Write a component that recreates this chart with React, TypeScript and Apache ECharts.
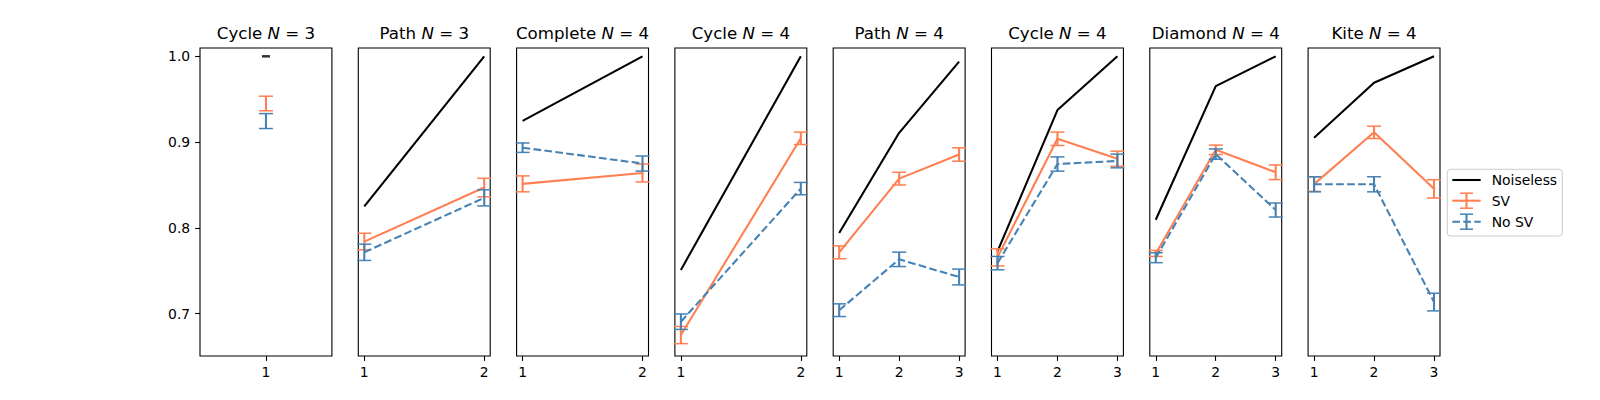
import React, { useEffect, useRef } from 'react';
import * as echarts from 'echarts';

// ---------------- data ----------------
const panelNames = ['Cycle', 'Path', 'Complete', 'Cycle', 'Path', 'Cycle', 'Diamond', 'Kite'];
const panelN = [3, 3, 4, 4, 4, 4, 4, 4];

const noiseless = [
  [1.0],
  [0.825, 1.0],
  [0.9248, 1.0],
  [0.751, 1.0],
  [0.794, 0.9108, 0.9938],
  [0.7725, 0.9373, 1.0],
  [0.8095, 0.9653, 1.0],
  [0.905, 0.9692, 1.0],
];

const svMean = [
  [0.945],
  [0.784, 0.847],
  [0.8513, 0.864],
  [0.675, 0.9044],
  [0.7715, 0.8574, 0.8855],
  [0.7656, 0.9038, 0.8806],
  [0.7702, 0.891, 0.8648],
  [0.851, 0.9114, 0.8455],
];
const svErr = [
  [0.0085],
  [0.0097, 0.0108],
  [0.0093, 0.0105],
  [0.01, 0.0072],
  [0.0075, 0.0074, 0.0078],
  [0.01, 0.0078, 0.0088],
  [0.0035, 0.0055, 0.0085],
  [0.0084, 0.0072, 0.0107],
];

const noSvMean = [
  [0.9245],
  [0.7715, 0.835],
  [0.8935, 0.875],
  [0.6906, 0.8458],
  [0.704, 0.7633, 0.7427],
  [0.7589, 0.8744, 0.878],
  [0.7652, 0.886, 0.8208],
  [0.8508, 0.8508, 0.7135],
];
const noSvErr = [
  [0.0087],
  [0.0095, 0.0094],
  [0.0055, 0.0088],
  [0.009, 0.0072],
  [0.0074, 0.0084, 0.0092],
  [0.0078, 0.0083, 0.008],
  [0.0058, 0.006, 0.0082],
  [0.0088, 0.0088, 0.0103],
];

const yTicks = [0.7, 0.8, 0.9, 1.0];
const legendLabels = ['Noiseless', 'SV', 'No SV'];

// ---------------- style / layout ----------------
const FONT = 'DejaVu Sans';
const BLACK = '#000000';
const CORAL = '#FF7F50';
const STEEL = '#4682B4';
const LEFT = 200;
const PANEL_W = 131.915;
const STEP = 158.298;
const TOP = 48;
const HEIGHT = 308;
const Y_MIN = 0.6506;
const Y_MAX = 1.0097;
const LW = 2.08;
const CAP = 7;

function xRange(n: number): [number, number] {
  if (n === 1) return [0.95, 1.05];
  const pad = 0.05 * (n - 1);
  return [1 - pad, n + pad];
}

function errorBarSeries(idx: number, means: number[], errs: number[], color: string) {
  return {
    type: 'custom',
    xAxisIndex: idx,
    yAxisIndex: idx,
    encode: { x: 0, y: [1, 2] },
    data: means.map((m, j) => [j + 1, m - errs[j], m + errs[j]]),
    renderItem: (_params: any, api: any) => {
      const x = api.value(0);
      const lo = api.coord([x, api.value(1)]);
      const hi = api.coord([x, api.value(2)]);
      return {
        type: 'group',
        children: [
          { type: 'line', shape: { x1: lo[0], y1: lo[1], x2: hi[0], y2: hi[1] }, style: { stroke: color, lineWidth: LW } },
          { type: 'line', shape: { x1: hi[0] - CAP, y1: hi[1], x2: hi[0] + CAP, y2: hi[1] }, style: { stroke: color, lineWidth: 1.5 } },
          { type: 'line', shape: { x1: lo[0] - CAP, y1: lo[1], x2: lo[0] + CAP, y2: lo[1] }, style: { stroke: color, lineWidth: 1.5 } },
        ],
      };
    },
    z: 3,
  };
}

function buildOption() {
  const grids: any[] = [];
  const xAxes: any[] = [];
  const yAxes: any[] = [];
  const titles: any[] = [];
  const series: any[] = [];

  panelNames.forEach((name, i) => {
    const n = noiseless[i].length;
    const [xmin, xmax] = xRange(n);
    const ticks = noiseless[i].map((_, j) => j + 1);
    grids.push({
      left: LEFT + i * STEP,
      top: TOP,
      width: PANEL_W,
      height: HEIGHT,
      show: true,
      borderColor: BLACK,
      borderWidth: 1.1,
      backgroundColor: 'transparent',
      containLabel: false,
    });
    xAxes.push({
      type: 'value',
      gridIndex: i,
      min: xmin,
      max: xmax,
      axisLine: { show: false },
      splitLine: { show: false },
      axisTick: { show: true, inside: false, length: 4.9, lineStyle: { color: BLACK, width: 1.1 }, customValues: ticks },
      axisLabel: {
        show: true,
        customValues: ticks,
        margin: 8.5,
        color: BLACK,
        fontFamily: FONT,
        fontSize: 13.9,
        lineHeight: 14,
        formatter: (v: number) => String(Math.round(v)),
      },
    });
    yAxes.push({
      type: 'value',
      gridIndex: i,
      min: Y_MIN,
      max: Y_MAX,
      show: i === 0,
      axisLine: { show: false },
      splitLine: { show: false },
      axisTick: { show: i === 0, inside: false, length: 4.9, lineStyle: { color: BLACK, width: 1.1 }, customValues: yTicks },
      axisLabel: {
        show: i === 0,
        customValues: yTicks,
        margin: 9.8,
        color: BLACK,
        fontFamily: FONT,
        fontSize: 13.9,
        formatter: (v: number) => v.toFixed(1),
      },
    });
    titles.push({
      text: `${name} {i|N} = ${panelN[i]}`,
      left: LEFT + i * STEP + PANEL_W / 2,
      top: 33.9,
      textAlign: 'center',
      textVerticalAlign: 'middle',
      padding: 0,
      textStyle: {
        fontFamily: FONT,
        fontSize: 16.67,
        fontWeight: 'normal',
        color: BLACK,
        lineHeight: 20,
        rich: {
          i: { fontFamily: FONT, fontStyle: 'italic', fontSize: 16.67, color: BLACK, lineHeight: 20 },
        },
      },
    });

    // Noiseless
    if (n === 1) {
      series.push({
        type: 'scatter',
        name: 'Noiseless',
        xAxisIndex: i,
        yAxisIndex: i,
        data: noiseless[i].map((v, j) => [j + 1, v]),
        symbol: 'rect',
        symbolSize: [8, 2.5],
        itemStyle: { color: BLACK },
        z: 2,
      });
    } else {
      series.push({
        type: 'line',
        name: 'Noiseless',
        xAxisIndex: i,
        yAxisIndex: i,
        data: noiseless[i].map((v, j) => [j + 1, v]),
        symbol: 'none',
        lineStyle: { color: BLACK, width: LW },
        z: 2,
      });
    }
    // SV
    series.push({
      type: 'line',
      name: 'SV',
      xAxisIndex: i,
      yAxisIndex: i,
      data: svMean[i].map((v, j) => [j + 1, v]),
      symbol: 'none',
      lineStyle: { color: CORAL, width: LW },
      z: 3,
    });
    series.push(errorBarSeries(i, svMean[i], svErr[i], CORAL));
    // No SV
    series.push({
      type: 'line',
      name: 'No SV',
      xAxisIndex: i,
      yAxisIndex: i,
      data: noSvMean[i].map((v, j) => [j + 1, v]),
      symbol: 'none',
      lineStyle: { color: STEEL, width: LW, type: [7.7, 3.3] },
      z: 4,
    });
    series.push({ ...errorBarSeries(i, noSvMean[i], noSvErr[i], STEEL), z: 4 });
  });

  // Legend (drawn as graphic)
  const lx0 = 1452.3;
  const lx1 = 1480.7;
  const lxc = (lx0 + lx1) / 2;
  const rows = [180, 200.7, 221.7];
  const colors = [BLACK, CORAL, STEEL];
  const legendChildren: any[] = [
    {
      type: 'rect',
      shape: { x: 1447.3, y: 169.3, width: 115, height: 66.7, r: 3 },
      style: { fill: 'rgba(255,255,255,0.8)', stroke: '#cccccc', lineWidth: 1 },
    },
  ];
  legendLabels.forEach((label, k) => {
    const y = rows[k];
    legendChildren.push({
      type: 'line',
      shape: { x1: lx0, y1: y, x2: lx1, y2: y },
      style: { stroke: colors[k], lineWidth: LW, lineDash: k === 2 ? [7.7, 3.3] : null },
    });
    if (k > 0) {
      legendChildren.push(
        { type: 'line', shape: { x1: lxc, y1: y - 7.5, x2: lxc, y2: y + 7.5 }, style: { stroke: colors[k], lineWidth: LW } },
        { type: 'line', shape: { x1: lxc - 6.5, y1: y - 7.5, x2: lxc + 6.5, y2: y - 7.5 }, style: { stroke: colors[k], lineWidth: 1.5 } },
        { type: 'line', shape: { x1: lxc - 6.5, y1: y + 7.5, x2: lxc + 6.5, y2: y + 7.5 }, style: { stroke: colors[k], lineWidth: 1.5 } }
      );
    }
    legendChildren.push({
      type: 'text',
      x: 1491.7,
      y,
      style: { text: label, fill: BLACK, font: `13.9px "${FONT}"`, fontFamily: FONT, fontSize: 13.9, verticalAlign: 'middle', align: 'left' },
    });
  });

  return {
    animation: false,
    backgroundColor: '#ffffff',
    textStyle: { fontFamily: FONT },
    title: titles,
    grid: grids,
    xAxis: xAxes,
    yAxis: yAxes,
    series,
    graphic: [{ type: 'group', children: legendChildren, z: 10 }],
  };
}

export default function App() {
  const ref = useRef<HTMLDivElement>(null);
  useEffect(() => {
    if (!ref.current) return;
    const chart = echarts.init(ref.current, null, { renderer: 'svg' });
    chart.setOption(buildOption() as any);
    return () => chart.dispose();
  }, []);
  return (
    <div
      ref={ref}
      style={{ position: 'fixed', left: 0, top: 0, width: 1600, height: 400, background: '#fff' }}
    />
  );
}
